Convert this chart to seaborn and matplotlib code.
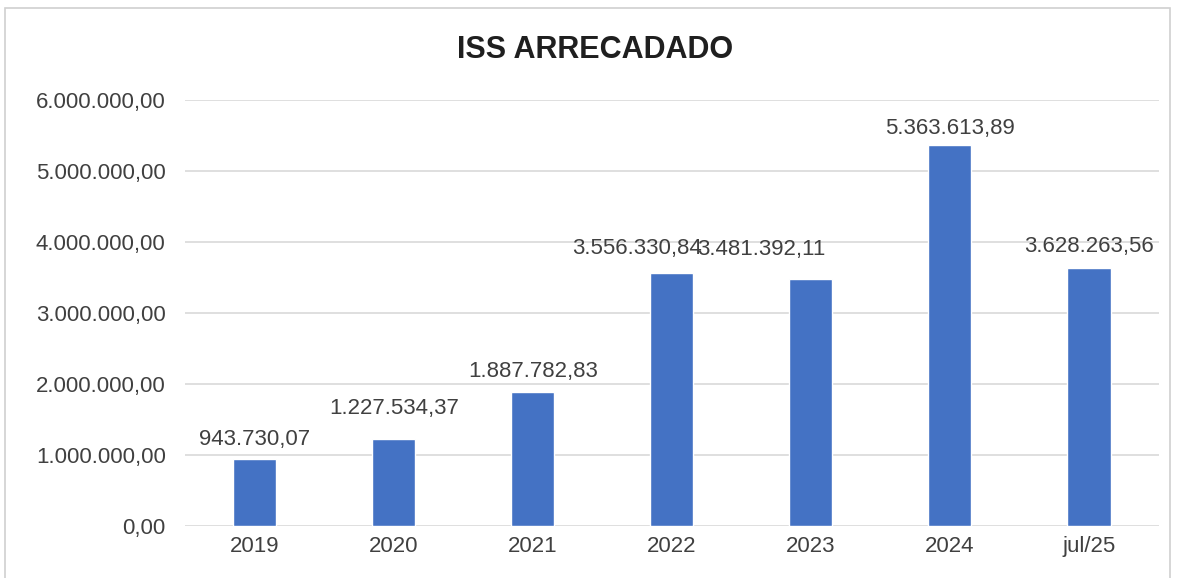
import matplotlib
matplotlib.use("Agg")
import matplotlib.pyplot as plt
import matplotlib.patches as mpatches
import seaborn as sns
import pandas as pd

# chart data
categories = ['2019', '2020', '2021', '2022', '2023', '2024', 'jul/25']
values = [943730.07, 1227534.37, 1887782.83, 3556330.84, 3481392.11, 5363613.89, 3628263.56]
labels = ['943.730,07', '1.227.534,37', '1.887.782,83', '3.556.330,84',
          '3.481.392,11', '5.363.613,89', '3.628.263,56']
yticks = [0, 1000000, 2000000, 3000000, 4000000, 5000000, 6000000]
ytick_labels = ['0,00', '1.000.000,00', '2.000.000,00', '3.000.000,00',
                '4.000.000,00', '5.000.000,00', '6.000.000,00']

df = pd.DataFrame({'cat': categories, 'val': values})

sns.set_style('white')
plt.rcParams['font.family'] = ['Liberation Sans', 'DejaVu Sans']
txt_color = '#404040'
fs = 16

fig = plt.figure(figsize=(11.87, 5.78), dpi=100)
ax = fig.add_axes([0.156, 0.090, 0.820, 0.737])

sns.barplot(data=df, x='cat', y='val', color='#4472C4', width=0.31,
            saturation=1, ax=ax, zorder=3)

ax.set_ylim(0, 6000000)
ax.set_yticks(yticks)
ax.set_yticklabels(ytick_labels, fontsize=fs, color=txt_color)
ax.tick_params(axis='x', labelsize=fs, labelcolor=txt_color, length=0, pad=7)
ax.tick_params(axis='y', length=0, pad=14)
ax.set_xlabel('')
ax.set_ylabel('')
ax.grid(axis='y', color='#d9d9d9', linewidth=1.2, zorder=0)
for s in ax.spines.values():
    s.set_visible(False)

# data labels (Excel placed the 2022/2023 ones slightly to the left)
x_shift = [0, 0, 0, -25, -36, 0, 0]
y_shift = [14, 22, 15, 18, 21, 12, 16]
for i, (v, lab) in enumerate(zip(values, labels)):
    ax.annotate(lab, (i, v), xytext=(x_shift[i], y_shift[i]), textcoords='offset points',
                ha='center', va='center', fontsize=fs, color=txt_color)

fig.text(0.501, 0.913, 'ISS ARRECADADO', ha='center', va='center',
         fontsize=22, fontweight='bold', color='#1f1f1f')

# outer chart border
fig.patches.append(mpatches.Rectangle((0.004, -0.01), 0.982, 0.997, transform=fig.transFigure,
                                      fill=False, edgecolor='#d0d0d0', linewidth=1.2))

fig.savefig('out.png', dpi=100)
